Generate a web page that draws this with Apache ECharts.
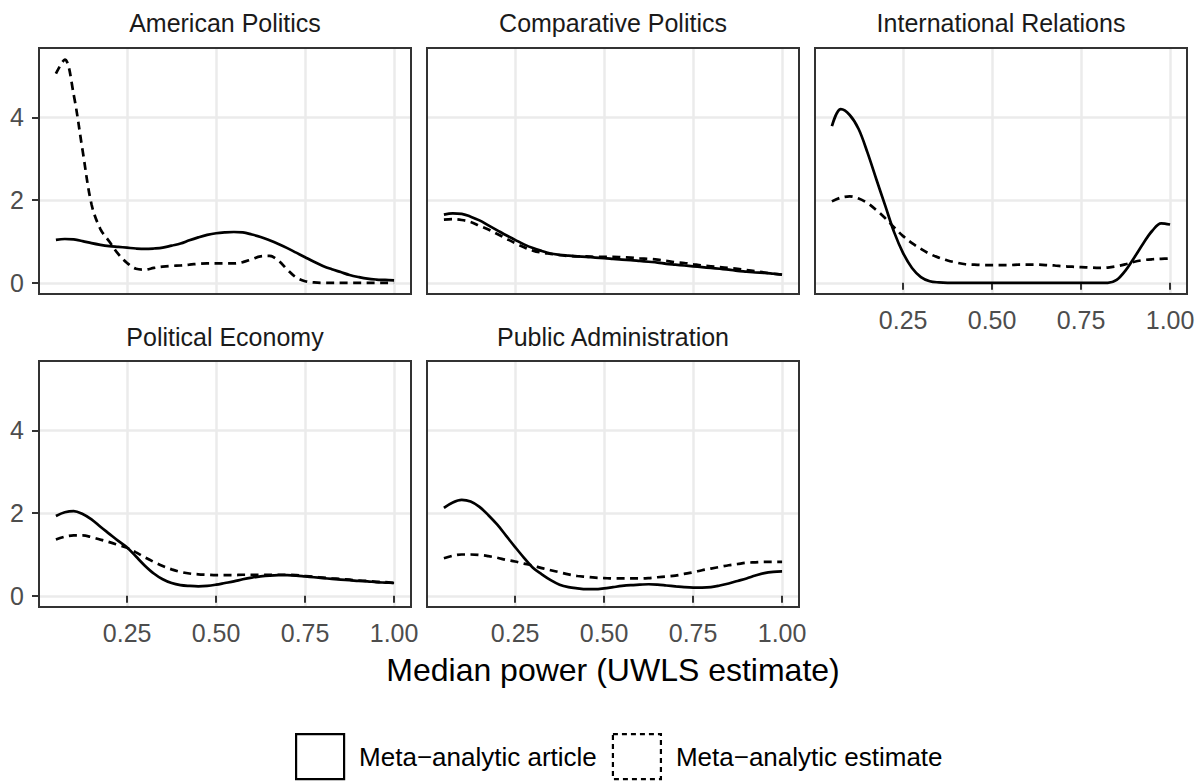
<!DOCTYPE html>
<html>
<head>
<meta charset="utf-8">
<title>Median power by subfield</title>
<script src="https://cdn.jsdelivr.net/npm/echarts@6/dist/echarts.min.js"></script>
<style>
  html, body { margin: 0; padding: 0; background: #ffffff; }
  #chart { width: 1199px; height: 781px; }
</style>
</head>
<body>
<div id="chart"></div>
<script>
// Sampling grid of median power shared by every density curve
const powerGrid = [0.05, 0.075, 0.1, 0.125, 0.15, 0.175, 0.2, 0.225, 0.25, 0.275,
  0.3, 0.325, 0.35, 0.375, 0.4, 0.425, 0.45, 0.475, 0.5, 0.525,
  0.55, 0.575, 0.6, 0.625, 0.65, 0.675, 0.7, 0.725, 0.75, 0.775,
  0.8, 0.825, 0.85, 0.875, 0.9, 0.925, 0.95, 0.975, 1.0];

// Subfield facets, in panel order
const subfields = ['American Politics', 'Comparative Politics', 'International Relations',
  'Political Economy', 'Public Administration'];

// Density of median power, meta-analytic article (solid)
const americanArticle = [1.04, 1.06, 1.05, 1.01, 0.96, 0.92, 0.89, 0.87, 0.85, 0.83,
  0.82, 0.83, 0.85, 0.90, 0.95, 1.03, 1.10, 1.16, 1.20, 1.22,
  1.23, 1.22, 1.17, 1.11, 1.03, 0.94, 0.84, 0.73, 0.62, 0.51,
  0.41, 0.33, 0.26, 0.19, 0.14, 0.10, 0.08, 0.07, 0.06];
const comparativeArticle = [1.65, 1.68, 1.67, 1.60, 1.51, 1.39, 1.27, 1.15, 1.04, 0.93,
  0.84, 0.77, 0.71, 0.68, 0.66, 0.64, 0.63, 0.61, 0.60, 0.58,
  0.56, 0.55, 0.53, 0.51, 0.49, 0.46, 0.44, 0.42, 0.40, 0.38,
  0.36, 0.34, 0.32, 0.29, 0.27, 0.25, 0.24, 0.22, 0.20];
const internationalArticle = [3.79, 4.20, 4.06, 3.72, 3.15, 2.50, 1.86, 1.22, 0.72, 0.36,
  0.14, 0.04, 0.01, 0, 0, 0, 0, 0, 0, 0,
  0, 0, 0, 0, 0, 0, 0, 0, 0, 0,
  0, 0, 0.07, 0.30, 0.62, 0.96, 1.26, 1.44, 1.41];
const economyArticle = [1.93, 2.02, 2.05, 1.98, 1.85, 1.67, 1.50, 1.33, 1.17, 0.95,
  0.73, 0.54, 0.40, 0.31, 0.26, 0.24, 0.23, 0.24, 0.27, 0.31,
  0.35, 0.40, 0.44, 0.47, 0.49, 0.50, 0.50, 0.49, 0.47, 0.45,
  0.43, 0.41, 0.39, 0.38, 0.36, 0.35, 0.33, 0.32, 0.31];
const adminArticle = [2.13, 2.26, 2.32, 2.28, 2.15, 1.95, 1.72, 1.45, 1.18, 0.92,
  0.68, 0.52, 0.38, 0.27, 0.21, 0.18, 0.16, 0.16, 0.18, 0.21,
  0.24, 0.26, 0.27, 0.28, 0.27, 0.25, 0.23, 0.21, 0.20, 0.20,
  0.21, 0.25, 0.30, 0.36, 0.42, 0.49, 0.55, 0.58, 0.59];

// Density of median power, meta-analytic estimate (dashed)
const americanEstimate = [5.06, 5.40, 4.55, 3.20, 1.90, 1.30, 1.00, 0.70, 0.48, 0.34,
  0.32, 0.36, 0.39, 0.41, 0.42, 0.44, 0.46, 0.47, 0.47, 0.47,
  0.47, 0.50, 0.57, 0.64, 0.65, 0.54, 0.32, 0.13, 0.04, 0.01,
  0, 0, 0, 0, 0, 0, 0, 0, 0];
const comparativeEstimate = [1.53, 1.54, 1.52, 1.47, 1.38, 1.29, 1.18, 1.07, 0.96, 0.86,
  0.78, 0.73, 0.70, 0.67, 0.65, 0.64, 0.64, 0.63, 0.63, 0.63,
  0.62, 0.61, 0.59, 0.58, 0.56, 0.53, 0.50, 0.48, 0.45, 0.42,
  0.40, 0.38, 0.36, 0.34, 0.31, 0.28, 0.25, 0.22, 0.20];
const internationalEstimate = [1.97, 2.06, 2.09, 2.04, 1.93, 1.76, 1.56, 1.34, 1.13, 0.96,
  0.82, 0.70, 0.61, 0.54, 0.49, 0.45, 0.44, 0.43, 0.43, 0.43,
  0.43, 0.44, 0.44, 0.44, 0.43, 0.42, 0.40, 0.39, 0.38, 0.37,
  0.36, 0.37, 0.40, 0.45, 0.51, 0.55, 0.57, 0.58, 0.59];
const economyEstimate = [1.36, 1.43, 1.46, 1.46, 1.42, 1.36, 1.30, 1.23, 1.16, 1.05,
  0.93, 0.82, 0.72, 0.64, 0.58, 0.54, 0.52, 0.51, 0.50, 0.50,
  0.50, 0.51, 0.51, 0.51, 0.51, 0.51, 0.51, 0.50, 0.48, 0.46,
  0.44, 0.42, 0.41, 0.39, 0.37, 0.36, 0.34, 0.33, 0.31];
const adminEstimate = [0.91, 0.97, 1.00, 1.00, 0.99, 0.96, 0.92, 0.87, 0.83, 0.78,
  0.73, 0.67, 0.62, 0.57, 0.52, 0.48, 0.46, 0.44, 0.43, 0.42,
  0.42, 0.42, 0.42, 0.43, 0.45, 0.47, 0.49, 0.53, 0.57, 0.62,
  0.66, 0.70, 0.74, 0.77, 0.80, 0.81, 0.82, 0.82, 0.82];

const articleCurves = [americanArticle, comparativeArticle, internationalArticle, economyArticle, adminArticle];
const estimateCurves = [americanEstimate, comparativeEstimate, internationalEstimate, economyEstimate, adminEstimate];

// Tick labels
const xTicks = [0.25, 0.5, 0.75, 1.0];
const yTicks = [0, 2, 4];

const legendNames = ['Meta\u2212analytic article', 'Meta\u2212analytic estimate'];
const xTitle = 'Median power (UWLS estimate)';

// ---- layout of the facet panels ----
const FONT = '"Liberation Sans", Arial, Helvetica, sans-serif';
const panelW = 372, panelH = 246;
const colLeft = [39, 427, 815];
const rowTop = [48, 361];
const panelPos = [
  { left: colLeft[0], top: rowTop[0], xLab: false, yLab: true },
  { left: colLeft[1], top: rowTop[0], xLab: false, yLab: false },
  { left: colLeft[2], top: rowTop[0], xLab: true,  yLab: false },
  { left: colLeft[0], top: rowTop[1], xLab: true,  yLab: true },
  { left: colLeft[1], top: rowTop[1], xLab: true,  yLab: false }
];
const stripY = [23, 337];

const tickStyle = { color: '#333333', width: 2 };
const gridLineStyle = { color: '#EBEBEB', width: 2.5 };

const grids = panelPos.map(p => ({
  left: p.left, top: p.top, width: panelW, height: panelH,
  show: true, z: 5, backgroundColor: 'transparent',
  borderColor: '#333333', borderWidth: 2
}));

const xAxes = panelPos.map((p, i) => ({
  gridIndex: i, type: 'value', min: 0.0025, max: 1.0475,
  axisLine: { show: false },
  axisTick: { show: p.xLab, customValues: xTicks, length: 7, lineStyle: tickStyle },
  axisLabel: {
    show: p.xLab, customValues: xTicks, margin: 13,
    formatter: v => v.toFixed(2),
    color: '#4D4D4D', fontSize: 25, fontFamily: FONT
  },
  splitLine: { show: true, lineStyle: gridLineStyle }
}));

const yAxes = panelPos.map((p, i) => ({
  gridIndex: i, type: 'value', min: -0.27, max: 5.68,
  axisLine: { show: false },
  axisTick: { show: p.yLab, customValues: yTicks, length: 7, lineStyle: tickStyle },
  axisLabel: {
    show: p.yLab, customValues: yTicks, margin: 15,
    color: '#4D4D4D', fontSize: 25, fontFamily: FONT
  },
  splitLine: { show: true, lineStyle: gridLineStyle }
}));

const series = [];
subfields.forEach((name, i) => {
  series.push({
    name: legendNames[0], type: 'line', xAxisIndex: i, yAxisIndex: i,
    data: powerGrid.map((x, k) => [x, articleCurves[i][k]]),
    showSymbol: false, smooth: 0.35, z: 3,
    lineStyle: { color: '#000000', width: 2.7, type: 'solid' }
  });
  series.push({
    name: legendNames[1], type: 'line', xAxisIndex: i, yAxisIndex: i,
    data: powerGrid.map((x, k) => [x, estimateCurves[i][k]]),
    showSymbol: false, smooth: 0.35, z: 3,
    lineStyle: { color: '#000000', width: 2.7, type: [8, 5.5] }
  });
});

// facet strip labels and the shared x-axis title
const texts = subfields.map((name, i) => ({
  type: 'text',
  x: panelPos[i].left + panelW / 2,
  y: i < 3 ? stripY[0] : stripY[1],
  style: { text: name, fill: '#1A1A1A', font: '25px ' + FONT, align: 'center', verticalAlign: 'middle' }
}));
texts.push({
  type: 'text', x: 613, y: 670,
  style: { text: xTitle, fill: '#000000', font: '32px ' + FONT, align: 'center', verticalAlign: 'middle' }
});

const option = {
  animation: false,
  backgroundColor: '#ffffff',
  grid: grids,
  xAxis: xAxes,
  yAxis: yAxes,
  series: series,
  legend: {
    left: 295, top: 733, orient: 'horizontal', padding: 0,
    itemWidth: 48, itemHeight: 45, itemGap: 15, icon: 'rect',
    selectedMode: false,
    textStyle: { fontSize: 26, color: '#000000', fontFamily: FONT, padding: [0, 0, 0, 10] },
    data: [
      { name: legendNames[0], itemStyle: { color: '#ffffff', borderColor: '#000000', borderWidth: 2.2, borderType: 'solid' } },
      { name: legendNames[1], itemStyle: { color: '#ffffff', borderColor: '#000000', borderWidth: 2.2, borderType: [5, 4] } }
    ]
  },
  graphic: texts
};

const chart = echarts.init(document.getElementById('chart'), null, { renderer: 'svg' });
chart.setOption(option);
</script>
</body>
</html>
